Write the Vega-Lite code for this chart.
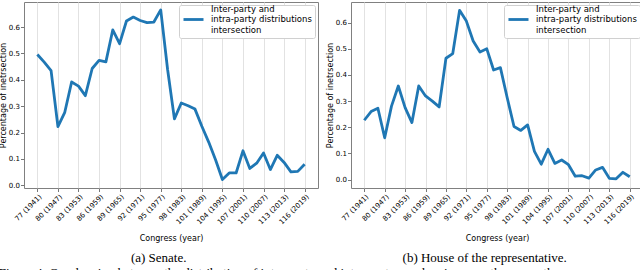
{
  "$schema": "https://vega.github.io/schema/vega-lite/v6.json",
  "background": "white",
  "padding": {"left": -2, "top": 1, "right": 0, "bottom": 0},
  "datasets": {
    "senate": [
      {"congress": 77, "value": 0.496, "series": "Inter-party and intra-party distributions intersection"},
      {"congress": 78, "value": 0.467, "series": "Inter-party and intra-party distributions intersection"},
      {"congress": 79, "value": 0.435, "series": "Inter-party and intra-party distributions intersection"},
      {"congress": 80, "value": 0.223, "series": "Inter-party and intra-party distributions intersection"},
      {"congress": 81, "value": 0.277, "series": "Inter-party and intra-party distributions intersection"},
      {"congress": 82, "value": 0.392, "series": "Inter-party and intra-party distributions intersection"},
      {"congress": 83, "value": 0.376, "series": "Inter-party and intra-party distributions intersection"},
      {"congress": 84, "value": 0.340, "series": "Inter-party and intra-party distributions intersection"},
      {"congress": 85, "value": 0.443, "series": "Inter-party and intra-party distributions intersection"},
      {"congress": 86, "value": 0.474, "series": "Inter-party and intra-party distributions intersection"},
      {"congress": 87, "value": 0.468, "series": "Inter-party and intra-party distributions intersection"},
      {"congress": 88, "value": 0.589, "series": "Inter-party and intra-party distributions intersection"},
      {"congress": 89, "value": 0.537, "series": "Inter-party and intra-party distributions intersection"},
      {"congress": 90, "value": 0.623, "series": "Inter-party and intra-party distributions intersection"},
      {"congress": 91, "value": 0.638, "series": "Inter-party and intra-party distributions intersection"},
      {"congress": 92, "value": 0.625, "series": "Inter-party and intra-party distributions intersection"},
      {"congress": 93, "value": 0.617, "series": "Inter-party and intra-party distributions intersection"},
      {"congress": 94, "value": 0.619, "series": "Inter-party and intra-party distributions intersection"},
      {"congress": 95, "value": 0.665, "series": "Inter-party and intra-party distributions intersection"},
      {"congress": 96, "value": 0.440, "series": "Inter-party and intra-party distributions intersection"},
      {"congress": 97, "value": 0.252, "series": "Inter-party and intra-party distributions intersection"},
      {"congress": 98, "value": 0.312, "series": "Inter-party and intra-party distributions intersection"},
      {"congress": 99, "value": 0.302, "series": "Inter-party and intra-party distributions intersection"},
      {"congress": 100, "value": 0.289, "series": "Inter-party and intra-party distributions intersection"},
      {"congress": 101, "value": 0.224, "series": "Inter-party and intra-party distributions intersection"},
      {"congress": 102, "value": 0.164, "series": "Inter-party and intra-party distributions intersection"},
      {"congress": 103, "value": 0.097, "series": "Inter-party and intra-party distributions intersection"},
      {"congress": 104, "value": 0.022, "series": "Inter-party and intra-party distributions intersection"},
      {"congress": 105, "value": 0.047, "series": "Inter-party and intra-party distributions intersection"},
      {"congress": 106, "value": 0.047, "series": "Inter-party and intra-party distributions intersection"},
      {"congress": 107, "value": 0.131, "series": "Inter-party and intra-party distributions intersection"},
      {"congress": 108, "value": 0.064, "series": "Inter-party and intra-party distributions intersection"},
      {"congress": 109, "value": 0.084, "series": "Inter-party and intra-party distributions intersection"},
      {"congress": 110, "value": 0.123, "series": "Inter-party and intra-party distributions intersection"},
      {"congress": 111, "value": 0.060, "series": "Inter-party and intra-party distributions intersection"},
      {"congress": 112, "value": 0.114, "series": "Inter-party and intra-party distributions intersection"},
      {"congress": 113, "value": 0.087, "series": "Inter-party and intra-party distributions intersection"},
      {"congress": 114, "value": 0.051, "series": "Inter-party and intra-party distributions intersection"},
      {"congress": 115, "value": 0.053, "series": "Inter-party and intra-party distributions intersection"},
      {"congress": 116, "value": 0.080, "series": "Inter-party and intra-party distributions intersection"}
    ],
    "house": [
      {"congress": 77, "value": 0.227, "series": "Inter-party and intra-party distributions intersection"},
      {"congress": 78, "value": 0.260, "series": "Inter-party and intra-party distributions intersection"},
      {"congress": 79, "value": 0.273, "series": "Inter-party and intra-party distributions intersection"},
      {"congress": 80, "value": 0.160, "series": "Inter-party and intra-party distributions intersection"},
      {"congress": 81, "value": 0.281, "series": "Inter-party and intra-party distributions intersection"},
      {"congress": 82, "value": 0.358, "series": "Inter-party and intra-party distributions intersection"},
      {"congress": 83, "value": 0.275, "series": "Inter-party and intra-party distributions intersection"},
      {"congress": 84, "value": 0.218, "series": "Inter-party and intra-party distributions intersection"},
      {"congress": 85, "value": 0.358, "series": "Inter-party and intra-party distributions intersection"},
      {"congress": 86, "value": 0.320, "series": "Inter-party and intra-party distributions intersection"},
      {"congress": 87, "value": 0.300, "series": "Inter-party and intra-party distributions intersection"},
      {"congress": 88, "value": 0.278, "series": "Inter-party and intra-party distributions intersection"},
      {"congress": 89, "value": 0.464, "series": "Inter-party and intra-party distributions intersection"},
      {"congress": 90, "value": 0.482, "series": "Inter-party and intra-party distributions intersection"},
      {"congress": 91, "value": 0.647, "series": "Inter-party and intra-party distributions intersection"},
      {"congress": 92, "value": 0.606, "series": "Inter-party and intra-party distributions intersection"},
      {"congress": 93, "value": 0.530, "series": "Inter-party and intra-party distributions intersection"},
      {"congress": 94, "value": 0.488, "series": "Inter-party and intra-party distributions intersection"},
      {"congress": 95, "value": 0.500, "series": "Inter-party and intra-party distributions intersection"},
      {"congress": 96, "value": 0.419, "series": "Inter-party and intra-party distributions intersection"},
      {"congress": 97, "value": 0.428, "series": "Inter-party and intra-party distributions intersection"},
      {"congress": 98, "value": 0.313, "series": "Inter-party and intra-party distributions intersection"},
      {"congress": 99, "value": 0.203, "series": "Inter-party and intra-party distributions intersection"},
      {"congress": 100, "value": 0.188, "series": "Inter-party and intra-party distributions intersection"},
      {"congress": 101, "value": 0.209, "series": "Inter-party and intra-party distributions intersection"},
      {"congress": 102, "value": 0.108, "series": "Inter-party and intra-party distributions intersection"},
      {"congress": 103, "value": 0.059, "series": "Inter-party and intra-party distributions intersection"},
      {"congress": 104, "value": 0.116, "series": "Inter-party and intra-party distributions intersection"},
      {"congress": 105, "value": 0.062, "series": "Inter-party and intra-party distributions intersection"},
      {"congress": 106, "value": 0.075, "series": "Inter-party and intra-party distributions intersection"},
      {"congress": 107, "value": 0.057, "series": "Inter-party and intra-party distributions intersection"},
      {"congress": 108, "value": 0.013, "series": "Inter-party and intra-party distributions intersection"},
      {"congress": 109, "value": 0.015, "series": "Inter-party and intra-party distributions intersection"},
      {"congress": 110, "value": 0.006, "series": "Inter-party and intra-party distributions intersection"},
      {"congress": 111, "value": 0.037, "series": "Inter-party and intra-party distributions intersection"},
      {"congress": 112, "value": 0.047, "series": "Inter-party and intra-party distributions intersection"},
      {"congress": 113, "value": 0.005, "series": "Inter-party and intra-party distributions intersection"},
      {"congress": 114, "value": 0.003, "series": "Inter-party and intra-party distributions intersection"},
      {"congress": 115, "value": 0.028, "series": "Inter-party and intra-party distributions intersection"},
      {"congress": 116, "value": 0.011, "series": "Inter-party and intra-party distributions intersection"}
    ]
  },
  "title": {
    "text": "Figure 4: Overlapping between the distribution of inter-party and intra-party overlapping over the years, the",
    "orient": "bottom",
    "anchor": "start",
    "font": "Liberation Serif",
    "fontSize": 13,
    "fontWeight": "normal",
    "color": "black",
    "offset": 2
  },
  "hconcat": [
    {
      "width": 294,
      "height": 186,
      "data": {"name": "senate"},
      "title": {"text": "(a) Senate.", "orient": "bottom", "anchor": "middle", "frame": "bounds", "font": "Liberation Serif", "fontSize": 13, "fontWeight": "normal", "color": "black", "offset": 9},
      "mark": {"type": "line", "strokeWidth": 2.8, "strokeJoin": "round"},
      "encoding": {
        "x": {
          "field": "congress", "type": "quantitative",
          "scale": {"domain": [75.05, 117.95], "nice": false, "zero": false},
          "axis": {"title": "Congress (year)", "titlePadding": 10, "values": [77, 80, 83, 86, 89, 92, 95, 98, 101, 104, 107, 110, 113, 116],
                   "labelExpr": "datum.value + ' (' + (1941 + (datum.value - 77) * 2) + ')'"}
        },
        "y": {
          "field": "value", "type": "quantitative",
          "scale": {"domain": [-0.01, 0.695], "nice": false, "zero": false},
          "axis": {"title": "Percentage of inetrsection", "values": [0, 0.1, 0.2, 0.3, 0.4, 0.5, 0.6], "format": ".1f", "grid": false}
        },
        "color": {
          "field": "series", "type": "nominal",
          "scale": {"range": ["#1f77b4"]},
          "legend": {
            "orient": "top-right", "offset": 3, "title": null,
            "symbolType": "stroke", "symbolSize": 400, "symbolStrokeWidth": 2.8,
            "labelFontSize": 8.5, "labelFont": "DejaVu Sans", "labelColor": "black",
            "labelExpr": "['Inter-party and', 'intra-party distributions', 'intersection']",
            "labelOffset": 6, "padding": 3, "strokeColor": "#d0d0d0", "fillColor": "white", "cornerRadius": 2,
            "encode": {"labels": {"update": {"dy": {"value": -10.2}, "lineHeight": {"value": 10.2}}}}
          }
        }
      }
    },
    {
      "width": 292,
      "height": 186,
      "data": {"name": "house"},
      "title": {"text": "(b) House of the representative.", "orient": "bottom", "anchor": "middle", "frame": "bounds", "font": "Liberation Serif", "fontSize": 13, "fontWeight": "normal", "color": "black", "offset": 9},
      "mark": {"type": "line", "strokeWidth": 2.8, "strokeJoin": "round"},
      "encoding": {
        "x": {
          "field": "congress", "type": "quantitative",
          "scale": {"domain": [75.05, 117.95], "nice": false, "zero": false},
          "axis": {"title": "Congress (year)", "titlePadding": 10, "values": [77, 80, 83, 86, 89, 92, 95, 98, 101, 104, 107, 110, 113, 116],
                   "labelExpr": "datum.value + ' (' + (1941 + (datum.value - 77) * 2) + ')'"}
        },
        "y": {
          "field": "value", "type": "quantitative",
          "scale": {"domain": [-0.032, 0.679], "nice": false, "zero": false},
          "axis": {"title": "Percentage of inetrsection", "values": [0, 0.1, 0.2, 0.3, 0.4, 0.5, 0.6], "format": ".1f", "grid": false}
        },
        "color": {
          "field": "series", "type": "nominal",
          "scale": {"range": ["#1f77b4"]},
          "legend": {
            "orient": "top-right", "offset": 3, "title": null,
            "symbolType": "stroke", "symbolSize": 400, "symbolStrokeWidth": 2.8,
            "labelFontSize": 8.5, "labelFont": "DejaVu Sans", "labelColor": "black",
            "labelExpr": "['Inter-party and', 'intra-party distributions', 'intersection']",
            "labelOffset": 6, "padding": 3, "strokeColor": "#d0d0d0", "fillColor": "white", "cornerRadius": 2,
            "encode": {"labels": {"update": {"dy": {"value": -10.2}, "lineHeight": {"value": 10.2}}}}
          }
        }
      }
    }
  ],
  "spacing": 6,
  "resolve": {"scale": {"color": "independent", "y": "independent"}, "legend": {"color": "independent"}},
  "config": {
    "font": "DejaVu Sans",
    "view": {"stroke": "#808080", "strokeWidth": 1},
    "axis": {
      "labelFont": "DejaVu Sans", "titleFont": "DejaVu Sans",
      "labelFontSize": 7, "titleFontSize": 8, "titleFontWeight": "normal",
      "labelColor": "black", "titleColor": "black",
      "tickColor": "#777", "tickSize": 3.5, "labelPadding": 1, "titlePadding": 1,
      "domain": false, "gridColor": "#e2e2e2", "gridWidth": 1, "labelOverlap": false, "labelBound": false
    },
    "axisX": {"grid": true, "labelAngle": -45, "labelAlign": "right", "labelBaseline": "top"},
    "axisY": {"grid": false}
  }
}
